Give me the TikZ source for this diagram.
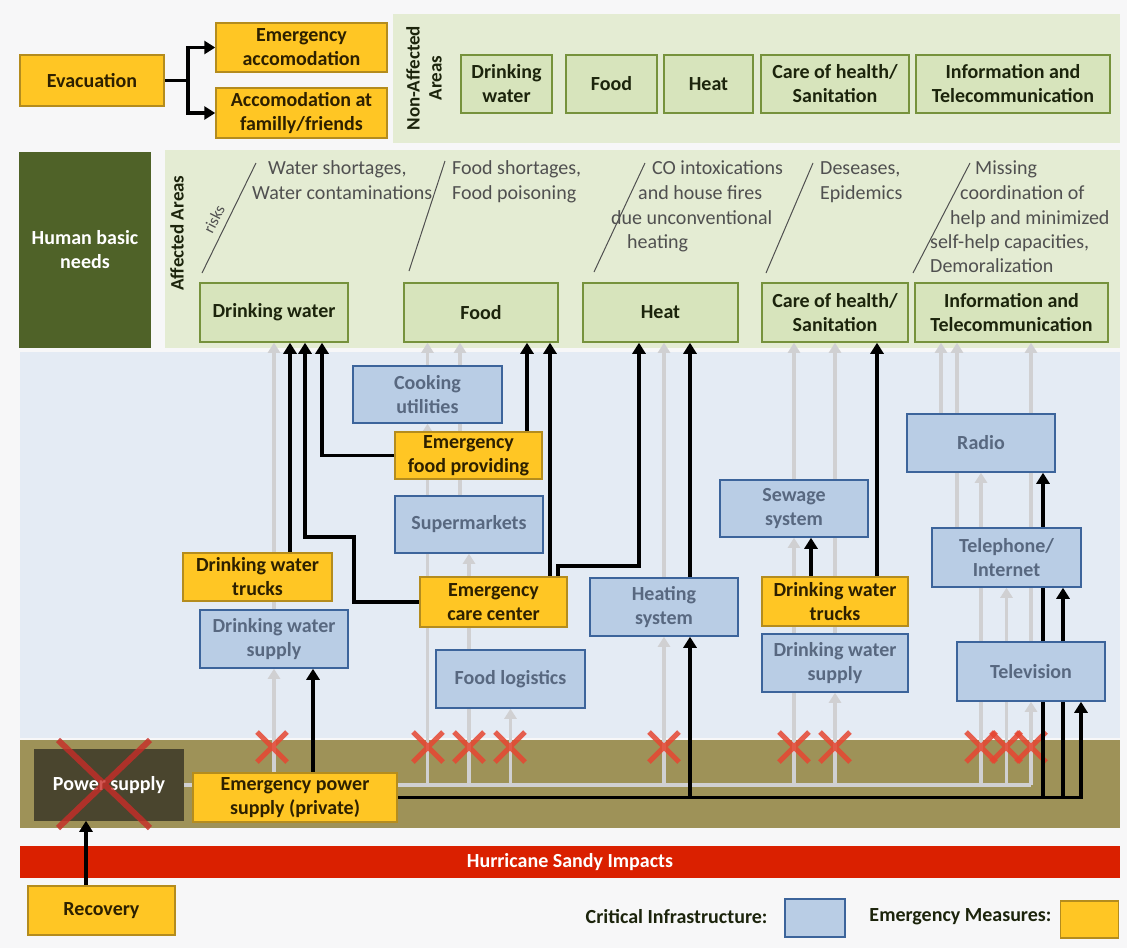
\documentclass[tikz,border=0pt]{standalone}
\usepackage{fontspec}
\setmainfont{Carlito}
\usetikzlibrary{arrows.meta}

\definecolor{pagebg}{RGB}{247,247,248}
\definecolor{bandgreen}{RGB}{228,236,211}
\definecolor{needfill}{RGB}{215,228,188}
\definecolor{needline}{RGB}{118,146,60}
\definecolor{needtext}{RGB}{28,36,12}
\definecolor{hbn}{RGB}{79,98,40}
\definecolor{cifill}{RGB}{185,205,229}
\definecolor{ciline}{RGB}{60,100,155}
\definecolor{citext}{RGB}{88,104,128}
\definecolor{emfill}{RGB}{255,198,36}
\definecolor{emline}{RGB}{180,140,30}
\definecolor{emtext}{RGB}{45,32,0}
\definecolor{bluearea}{RGB}{228,235,244}
\definecolor{powerband}{RGB}{158,146,88}
\definecolor{powerbox}{RGB}{74,69,46}
\definecolor{impact}{RGB}{218,32,0}
\definecolor{greyline}{RGB}{208,208,210}
\definecolor{cross}{RGB}{230,70,50}
\definecolor{bigcross}{RGB}{200,45,40}
\definecolor{risktext}{RGB}{80,80,80}

\pgfdeclarelayer{back}
\pgfdeclarelayer{greylines}
\pgfdeclarelayer{crosses}
\pgfdeclarelayer{blacklines}
\pgfdeclarelayer{front}
\pgfsetlayers{back,greylines,crosses,blacklines,main,front}

\begin{document}
\begin{tikzpicture}[x=1pt,y=-1pt,
  base/.style={font=\fontsize{20}{24}\selectfont},
  box/.style={draw, line width=1.5pt, align=center, inner sep=0pt,
    font=\bfseries\fontsize{20}{24}\selectfont},
  sz/.style 2 args={minimum width=#1, minimum height=#2},
  ci/.style={box, fill=cifill, draw=ciline, text=citext},
  em/.style={box, fill=emfill, draw=emline, text=emtext},
  need/.style={box, fill=needfill, draw=needline, text=needtext},
  risk/.style={base, text=risktext, anchor=west, inner sep=0pt,
    text height=14pt, text depth=5pt},
  vlabel/.style={font=\bfseries\fontsize{19}{22}\selectfont, text=needtext,
    rotate=90, align=center},
  blk/.style={line width=3.6pt, black, -{Triangle[width=13pt,length=11pt]}},
  gry/.style={line width=3.6pt, greyline, -{Triangle[width=12pt,length=10pt]}},
  gbus/.style={line width=4pt, greyline},
  xmark/.style={line width=5pt, cross, opacity=.85},
  slash/.style={line width=1pt, risktext}
]
\useasboundingbox (0,0) rectangle (1127,948);

% ---------- backgrounds ----------
\begin{pgfonlayer}{back}
  \fill[pagebg] (0,0) rectangle (1127,948);
  \fill[bandgreen] (393,14) rectangle (1120,143);
  \fill[bandgreen] (165,150) rectangle (1120,348);
  \fill[bluearea] (20,352) rectangle (1120,738);
  \fill[powerband] (20,740) rectangle (1120,828);
  \fill[impact] (20,846) rectangle (1120,878);
  % risk separators
  \draw[slash] (202,273) -- (256,163);
  \draw[slash] (409,271) -- (445,161);
  \draw[slash] (594,272) -- (645,163);
  \draw[slash] (766,273) -- (813,163);
  \draw[slash] (913,273) -- (970,163);
\end{pgfonlayer}

% ---------- evacuation ----------
\node[em, sz={144}{51}] (evac) at (92,80.5) {Evacuation};
\node[em, sz={171}{49}] (emacc) at (301.5,47.5) {Emergency\\accomodation};
\node[em, sz={171}{50}] (famacc) at (301.5,113) {Accomodation at\\familly/friends};

% ---------- non-affected areas ----------
\node[vlabel] (nalabel) at (424,78) {Non-Affected\\Areas};
\node[need, sz={91}{58}] (nadw) at (506.5,84) {Drinking\\water};
\node[need, sz={91}{58}] (nafood) at (611.5,84) {Food};
\node[need, sz={89}{58}] (naheat) at (708.5,84) {Heat};
\node[need, sz={148}{58}] (nacare) at (835,84) {Care of health/\\Sanitation};
\node[need, sz={194}{58}] (nainfo) at (1013,84) {Information and\\Telecommunication};

% ---------- affected areas ----------
\node[box, fill=hbn, draw=hbn, text=white, sz={130}{194}] (hbneeds) at (85,250) {Human basic\\needs};
\node[vlabel] (alabel) at (177,233) {Affected Areas};
\node[font=\fontsize{16}{18}\selectfont, text=risktext, rotate=63, inner sep=0pt] (risks) at (214,219) {risks};

\node[risk] (rw1) at (268,170) {Water shortages,};
\node[risk] (rw2) at (252,195) {Water contaminations};
\node[risk] (rf1) at (452,170) {Food shortages,};
\node[risk] (rf2) at (452,195) {Food poisoning};
\node[risk] (rh1) at (652,170) {CO intoxications};
\node[risk] (rh2) at (638,195) {and house fires};
\node[risk] (rh3) at (611,220) {due unconventional};
\node[risk] (rh4) at (627,244) {heating};
\node[risk] (rc1) at (820,170) {Deseases,};
\node[risk] (rc2) at (820,195) {Epidemics};
\node[risk] (ri1) at (975,170) {Missing};
\node[risk] (ri2) at (960,195) {coordination of};
\node[risk] (ri3) at (950,220) {help and minimized};
\node[risk] (ri4) at (930,244) {self-help capacities,};
\node[risk] (ri5) at (930,268) {Demoralization};

\node[need, sz={148}{59}] (adw) at (274,312.5) {Drinking water};
\node[need, sz={154}{59}] (afood) at (481,312.5) {Food};
\node[need, sz={155}{59}] (aheat) at (660.5,312.5) {Heat};
\node[need, sz={146}{59}] (acare) at (835,312.5) {Care of health/\\Sanitation};
\node[need, sz={193}{59}] (ainfo) at (1011.5,312.5) {Information and\\Telecommunication};

% ---------- critical infrastructure ----------
\node[ci, sz={149}{57}] (cook) at (427.5,394.5) {Cooking\\utilities};
\node[ci, sz={148}{57}] (superm) at (469,524.5) {Supermarkets};
\node[ci, sz={149}{58}] (foodlog) at (510.5,679) {Food logistics};
\node[ci, sz={148}{58}] (dwsL) at (274,639) {Drinking water\\supply};
\node[ci, sz={148}{58}] (heating) at (664,607) {Heating\\system};
\node[ci, sz={148}{57}] (sewage) at (794,508.5) {Sewage\\system};
\node[ci, sz={146}{58}] (dwsR) at (835,663) {Drinking water\\supply};
\node[ci, sz={148}{58}] (radio) at (981,443) {Radio};
\node[ci, sz={149}{59}] (tel) at (1006.5,557.5) {Telephone/\\Internet};
\node[ci, sz={148}{59}] (tv) at (1031,671.5) {Television};

% ---------- emergency measures ----------
\node[em, sz={147}{47}] (efp) at (468.5,455.5) {Emergency\\food providing};
\node[em, sz={149}{48}] (dwtL) at (257.5,577) {Drinking water\\trucks};
\node[em, sz={147}{50}] (ecc) at (493.5,602) {Emergency\\care center};
\node[em, sz={146}{49}] (dwtR) at (835,601.5) {Drinking water\\trucks};
\node[em, sz={204}{49}] (eps) at (295,797.5) {Emergency power\\supply (private)};
\node[em, sz={147}{49}] (recov) at (101.5,910.5) {Recovery};

% ---------- power supply and impacts ----------
\node[box, fill=powerbox, draw=powerbox, text=white, sz={148}{70}] (power) at (109,785) {Power supply};
\node[font=\bfseries\fontsize{20}{24}\selectfont, text=white] (impacts) at (570,862) {Hurricane Sandy Impacts};

% ---------- legend ----------
\node[ci, sz={60}{38}] (legci) at (815,918) {};
\node[font=\bfseries\fontsize{20}{24}\selectfont, text=needtext, anchor=east] (legcitext) at (771,917) {Critical Infrastructure:};
\node[em, sz={58}{37}] (legem) at (1089.5,919.5) {};
\node[font=\bfseries\fontsize{20}{24}\selectfont, text=needtext, anchor=east] (legemtext) at (1055,917) {Emergency Measures:};

% ---------- failed power dependencies (grey) ----------
\begin{pgfonlayer}{greylines}
  \draw[gbus] (power.east) -- (power.east -| tv.south);
  \foreach \n in {dwsL,cook,superm,foodlog,heating,sewage,dwsR,radio,tel,tv}
    \draw[gry] (\n.south |- power.east) -- (\n.south);
  \draw[gry] (dwsL.north) -- (dwsL.north |- adw.south);
  \draw[gry] (cook.north) -- (cook.north |- afood.south);
  \draw[gry] ([xshift=-9]superm.north) -- ([xshift=-9]superm.north |- afood.south);
  \draw[gry] (heating.north) -- (heating.north |- aheat.south);
  \draw[gry] (sewage.north) -- (sewage.north |- acare.south);
  \draw[gry] (dwsR.north) -- (dwsR.north |- acare.south);
  \draw[gry] ([xshift=-40]radio.north) -- ([xshift=-40]radio.north |- ainfo.south);
  \draw[gry] ([xshift=-49.5]tel.north) -- ([xshift=-49.5]tel.north |- ainfo.south);
  \draw[gry] (tv.north) -- (tv.north |- ainfo.south);
\end{pgfonlayer}

% ---------- interruptions ----------
\begin{pgfonlayer}{crosses}
  \foreach \cx in {272,428,469,510,664,794,835,981,1006,1031}
    \draw[xmark] (\cx-15,732) -- (\cx+15,762) (\cx+15,732) -- (\cx-15,762);
\end{pgfonlayer}

% ---------- emergency supply paths (black) ----------
\begin{pgfonlayer}{blacklines}
  \draw[blk] (evac.east) -- ++(23,0) |- (emacc.west);
  \draw[blk] (evac.east) -- ++(23,0) |- (famacc.west);
  \coordinate (eccbend) at (354,537);
  \draw[blk] ([xshift=32.5]dwtL.north) -- ([xshift=16]adw.south);
  \draw[blk] (ecc.west) -| (eccbend) -| ([xshift=31]adw.south);
  \draw[blk] (efp.west) -| ([xshift=48]adw.south);
  \draw[blk] ([xshift=58.5]efp.north) -- ([xshift=46]afood.south);
  \draw[blk] ([xshift=56.5]ecc.north) -- ([xshift=69]afood.south);
  \draw[blk] ([xshift=64.5]ecc.north) -- ++(0,-10) -| ([xshift=-21.5]aheat.south);
  \draw[blk] ([xshift=26]heating.north) -- ([xshift=29.5]aheat.south);
  \draw[blk] ([xshift=18]eps.north) -- ([xshift=39]dwsL.south);
  \draw[blk] ([xshift=-24]dwtR.north) -- ([xshift=17]sewage.south);
  \draw[blk] ([xshift=42]dwtR.north) -- ([xshift=42]acare.south);
  \draw[blk] (eps.east) -| ([xshift=26]heating.south);
  \draw[blk] (eps.east) -| ([xshift=62]radio.south);
  \draw[blk] (eps.east) -| ([xshift=56.5]tel.south);
  \draw[blk] (eps.east) -| ([xshift=50]tv.south);
  \draw[blk] ([xshift=-15.5]recov.north) -- ([xshift=-23]power.south);
\end{pgfonlayer}

% ---------- power supply failure ----------
\begin{pgfonlayer}{front}
  \draw[line width=6pt, bigcross, opacity=.8]
    (58,740) -- (150,828) (150,740) -- (58,828);
\end{pgfonlayer}
\end{tikzpicture}
\end{document}
